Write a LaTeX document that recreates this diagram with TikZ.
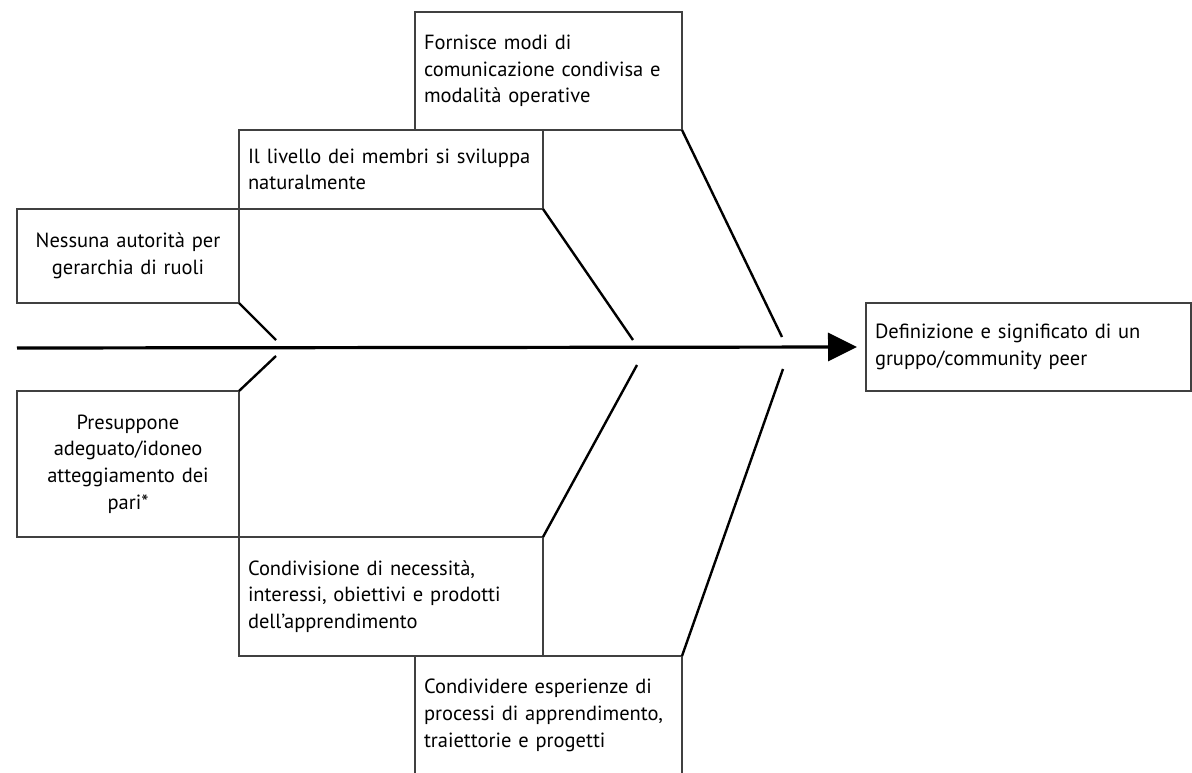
\documentclass[tikz,border=0pt]{standalone}
\usepackage{fontspec}
\setmainfont{PT Sans}
\usetikzlibrary{arrows.meta}
\begin{document}
\begin{tikzpicture}[x=1pt,y=-1pt,
  box/.style={draw=black!75, line width=1.2pt, outer sep=0pt, inner xsep=9pt, inner ysep=0pt,
    anchor=north west, font=\fontsize{20.5}{26.7}\selectfont, text=black},
  lbox/.style={box, align=left},
  cbox/.style={box, align=center},
  bone/.style={line width=2.4pt, black},
  spine/.style={line width=3.2pt, black, shorten >=9pt, -{Triangle[length=29pt,width=28pt]}}]
\useasboundingbox (0,0) rectangle (1192,773);
% boxes
\node[lbox, minimum width=267pt, minimum height=118pt, text width=249pt] (f) at (415,12)
  {Fornisce modi di\\comunicazione condivisa e\\modalità operative};
\node[lbox, minimum width=304pt, minimum height=79pt, text width=286pt] (l) at (239,130)
  {Il livello dei membri si sviluppa\\naturalmente};
\node[cbox, minimum width=222pt, minimum height=94pt, text width=204pt] (n) at (17,209)
  {Nessuna autorità per\\gerarchia di ruoli};
\node[cbox, minimum width=222pt, minimum height=146pt, text width=204pt] (p) at (17,391)
  {Presuppone\\adeguato/idoneo\\atteggiamento dei\\pari*};
\node[lbox, minimum width=304pt, minimum height=119pt, text width=286pt] (c1) at (239,537)
  {Condivisione di necessità,\\interessi, obiettivi e prodotti\\dell’apprendimento};
\node[lbox, minimum width=267pt, minimum height=119pt, text width=249pt] (c2) at (415,656)
  {Condividere esperienze di\\processi di apprendimento,\\traiettorie e progetti};
\node[lbox, minimum width=325pt, minimum height=88pt, text width=307pt] (d) at (866,303)
  {Definizione e significato di un\\gruppo/community peer};
% spine
\coordinate (tail) at (17,348);
\draw[spine] (tail) -- (d.west);
% joints
\coordinate (j1u) at (276,340);
\coordinate (j1d) at (276,356);
\coordinate (j2u) at (633,340);
\coordinate (j2d) at (637,365);
\coordinate (j3u) at (782,337);
\coordinate (j3d) at (783,369);
% bones
\draw[bone] (n.south east) -- (j1u);
\draw[bone] (p.north east) -- (j1d);
\draw[bone] (l.south east) -- (j2u);
\draw[bone] (c1.north east) -- (j2d);
\draw[bone] (f.south east) -- (j3u);
\draw[bone] (c2.north east) -- (j3d);
\end{tikzpicture}
\end{document}
